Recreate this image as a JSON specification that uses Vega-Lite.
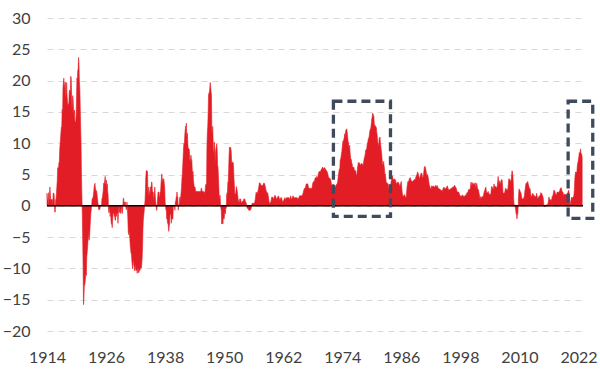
{
"$schema": "https://vega.github.io/schema/vega-lite/v6.json",
"width": 536,
"height": 313,
"autosize": {"type": "none"},
"padding": {"left": 47, "top": 18, "right": 17, "bottom": 45},
"background": "white",
"config": {"view": {"stroke": null}, "axis": {"labelOverlap": false}},
"layer": [
{
"data": {"values": [
{"t":1914,"v":2},{"t":1914.08,"v":1},{"t":1914.17,"v":1},{"t":1914.25,"v":0},{"t":1914.33,"v":2.1},{"t":1914.42,"v":1},{"t":1914.5,"v":1},{"t":1914.58,"v":3},{"t":1914.67,"v":2},{"t":1914.75,"v":1},{"t":1914.83,"v":1},{"t":1914.92,"v":1},
{"t":1915,"v":1},{"t":1915.08,"v":1},{"t":1915.17,"v":0},{"t":1915.25,"v":2},{"t":1915.33,"v":2},{"t":1915.42,"v":2},{"t":1915.5,"v":1},{"t":1915.58,"v":-1},{"t":1915.67,"v":-1},{"t":1915.75,"v":1},{"t":1915.83,"v":1},{"t":1915.92,"v":2},
{"t":1916,"v":3},{"t":1916.08,"v":4},{"t":1916.17,"v":6.1},{"t":1916.25,"v":6},{"t":1916.33,"v":5.9},{"t":1916.42,"v":6.9},{"t":1916.5,"v":6.9},{"t":1916.58,"v":8.9},{"t":1916.67,"v":9.9},{"t":1916.75,"v":10.8},{"t":1916.83,"v":11.7},{"t":1916.92,"v":12.6},
{"t":1917,"v":12.5},{"t":1917.08,"v":15.4},{"t":1917.17,"v":14.3},{"t":1917.25,"v":18.9},{"t":1917.33,"v":19.6},{"t":1917.42,"v":20.4},{"t":1917.5,"v":18.5},{"t":1917.58,"v":19.3},{"t":1917.67,"v":19.8},{"t":1917.75,"v":19.5},{"t":1917.83,"v":17.4},{"t":1917.92,"v":18.1},
{"t":1918,"v":19.7},{"t":1918.08,"v":17.5},{"t":1918.17,"v":16.7},{"t":1918.25,"v":16},{"t":1918.33,"v":16.3},{"t":1918.42,"v":16},{"t":1918.5,"v":18},{"t":1918.58,"v":18.5},{"t":1918.67,"v":18},{"t":1918.75,"v":18.5},{"t":1918.83,"v":20.7},{"t":1918.92,"v":20.3},
{"t":1919,"v":17.9},{"t":1919.08,"v":14.9},{"t":1919.17,"v":17.1},{"t":1919.25,"v":17.6},{"t":1919.33,"v":16.6},{"t":1919.42,"v":15},{"t":1919.5,"v":14.8},{"t":1919.58,"v":15.3},{"t":1919.67,"v":13.5},{"t":1919.75,"v":13.4},{"t":1919.83,"v":13.4},{"t":1919.92,"v":14.5},
{"t":1920,"v":17},{"t":1920.08,"v":20.4},{"t":1920.17,"v":20.1},{"t":1920.25,"v":21.6},{"t":1920.33,"v":21.9},{"t":1920.42,"v":23.7},{"t":1920.5,"v":22.7},{"t":1920.58,"v":19.9},{"t":1920.67,"v":18.7},{"t":1920.75,"v":16},{"t":1920.83,"v":12.9},{"t":1920.92,"v":9.9},
{"t":1921,"v":5.4},{"t":1921.08,"v":2},{"t":1921.17,"v":-1.1},{"t":1921.25,"v":-5.1},{"t":1921.33,"v":-9.3},{"t":1921.42,"v":-15.8},{"t":1921.5,"v":-14.9},{"t":1921.58,"v":-12.8},{"t":1921.67,"v":-12.7},{"t":1921.75,"v":-12.2},{"t":1921.83,"v":-11.4},{"t":1921.92,"v":-10.8},
{"t":1922,"v":-11.1},{"t":1922.08,"v":-8.2},{"t":1922.17,"v":-7.4},{"t":1922.25,"v":-6.6},{"t":1922.33,"v":-5.6},{"t":1922.42,"v":-5.1},{"t":1922.5,"v":-4.4},{"t":1922.58,"v":-5.5},{"t":1922.67,"v":-4.6},{"t":1922.75,"v":-3.4},{"t":1922.83,"v":-2.3},{"t":1922.92,"v":-1.1},
{"t":1923,"v":-0.6},{"t":1923.08,"v":0},{"t":1923.17,"v":1.1},{"t":1923.25,"v":1.2},{"t":1923.33,"v":1.2},{"t":1923.42,"v":1.7},{"t":1923.5,"v":2.3},{"t":1923.58,"v":3},{"t":1923.67,"v":3.4},{"t":1923.75,"v":3.6},{"t":1923.83,"v":2.9},{"t":1923.92,"v":2.4},
{"t":1924,"v":2.4},{"t":1924.08,"v":2.4},{"t":1924.17,"v":1.8},{"t":1924.25,"v":1.2},{"t":1924.33,"v":0.6},{"t":1924.42,"v":0},{"t":1924.5,"v":-0.6},{"t":1924.58,"v":-0.6},{"t":1924.67,"v":-0.6},{"t":1924.75,"v":-0.6},{"t":1924.83,"v":0},{"t":1924.92,"v":0},
{"t":1925,"v":0},{"t":1925.08,"v":0},{"t":1925.17,"v":1.2},{"t":1925.25,"v":1.2},{"t":1925.33,"v":1.8},{"t":1925.42,"v":2.4},{"t":1925.5,"v":3.6},{"t":1925.58,"v":3.6},{"t":1925.67,"v":3.6},{"t":1925.75,"v":4.2},{"t":1925.83,"v":4.7},{"t":1925.92,"v":3.5},
{"t":1926,"v":3.5},{"t":1926.08,"v":4.1},{"t":1926.17,"v":2.9},{"t":1926.25,"v":3.5},{"t":1926.33,"v":2.3},{"t":1926.42,"v":1.7},{"t":1926.5,"v":-0.6},{"t":1926.58,"v":-1.1},{"t":1926.67,"v":-0.6},{"t":1926.75,"v":-0.6},{"t":1926.83,"v":-1.7},{"t":1926.92,"v":-0.6},
{"t":1927,"v":-2.3},{"t":1927.08,"v":-2.9},{"t":1927.17,"v":-2.9},{"t":1927.25,"v":-3.5},{"t":1927.33,"v":-2.3},{"t":1927.42,"v":-1.2},{"t":1927.5,"v":-1.2},{"t":1927.58,"v":-1.2},{"t":1927.67,"v":-1.7},{"t":1927.75,"v":-1.2},{"t":1927.83,"v":-2.3},{"t":1927.92,"v":-2.3},
{"t":1928,"v":-1.1},{"t":1928.08,"v":-1.7},{"t":1928.17,"v":-1.2},{"t":1928.25,"v":-1.2},{"t":1928.33,"v":-1.1},{"t":1928.42,"v":-2.8},{"t":1928.5,"v":-1.2},{"t":1928.58,"v":-0.6},{"t":1928.67,"v":0},{"t":1928.75,"v":-1.1},{"t":1928.83,"v":-0.6},{"t":1928.92,"v":-1.2},
{"t":1929,"v":-1.2},{"t":1929.08,"v":0},{"t":1929.17,"v":-0.6},{"t":1929.25,"v":-1.2},{"t":1929.33,"v":-1.2},{"t":1929.42,"v":0},{"t":1929.5,"v":1.2},{"t":1929.58,"v":1.2},{"t":1929.67,"v":0},{"t":1929.75,"v":0.6},{"t":1929.83,"v":0.6},{"t":1929.92,"v":0.6},
{"t":1930,"v":0},{"t":1930.08,"v":-0.6},{"t":1930.17,"v":-0.6},{"t":1930.25,"v":0.6},{"t":1930.33,"v":-0.6},{"t":1930.42,"v":-1.8},{"t":1930.5,"v":-4},{"t":1930.58,"v":-4.6},{"t":1930.67,"v":-4},{"t":1930.75,"v":-4.6},{"t":1930.83,"v":-5.2},{"t":1930.92,"v":-6.4},
{"t":1931,"v":-7},{"t":1931.08,"v":-7.6},{"t":1931.17,"v":-7.7},{"t":1931.25,"v":-8.8},{"t":1931.33,"v":-9.5},{"t":1931.42,"v":-10.1},{"t":1931.5,"v":-9},{"t":1931.58,"v":-8.5},{"t":1931.67,"v":-9.6},{"t":1931.75,"v":-9.7},{"t":1931.83,"v":-10.4},{"t":1931.92,"v":-9.3},
{"t":1932,"v":-10.1},{"t":1932.08,"v":-10.3},{"t":1932.17,"v":-10.3},{"t":1932.25,"v":-10.2},{"t":1932.33,"v":-10.8},{"t":1932.42,"v":-10},{"t":1932.5,"v":-9.9},{"t":1932.58,"v":-10.6},{"t":1932.67,"v":-10.7},{"t":1932.75,"v":-10.4},{"t":1932.83,"v":-10.2},{"t":1932.92,"v":-10.3},
{"t":1933,"v":-9.8},{"t":1933.08,"v":-9.9},{"t":1933.17,"v":-10},{"t":1933.25,"v":-9.4},{"t":1933.33,"v":-8.4},{"t":1933.42,"v":-6.6},{"t":1933.5,"v":-3.7},{"t":1933.58,"v":-2.2},{"t":1933.67,"v":-1.5},{"t":1933.75,"v":-0.8},{"t":1933.83,"v":0},{"t":1933.92,"v":0.8},
{"t":1934,"v":2.3},{"t":1934.08,"v":4.7},{"t":1934.17,"v":5.6},{"t":1934.25,"v":5.6},{"t":1934.33,"v":5.6},{"t":1934.42,"v":5.5},{"t":1934.5,"v":2.3},{"t":1934.58,"v":1.5},{"t":1934.67,"v":3},{"t":1934.75,"v":2.3},{"t":1934.83,"v":2.3},{"t":1934.92,"v":1.5},
{"t":1935,"v":3},{"t":1935.08,"v":3},{"t":1935.17,"v":3},{"t":1935.25,"v":3.8},{"t":1935.33,"v":3.8},{"t":1935.42,"v":2.2},{"t":1935.5,"v":2.2},{"t":1935.58,"v":2.2},{"t":1935.67,"v":0.7},{"t":1935.75,"v":1.5},{"t":1935.83,"v":2.2},{"t":1935.92,"v":3},
{"t":1936,"v":1.5},{"t":1936.08,"v":0.7},{"t":1936.17,"v":0},{"t":1936.25,"v":-0.7},{"t":1936.33,"v":-0.7},{"t":1936.42,"v":0.7},{"t":1936.5,"v":1.5},{"t":1936.58,"v":2.2},{"t":1936.67,"v":2.2},{"t":1936.75,"v":2.2},{"t":1936.83,"v":1.4},{"t":1936.92,"v":1.4},
{"t":1937,"v":2.2},{"t":1937.08,"v":2.2},{"t":1937.17,"v":3.6},{"t":1937.25,"v":4.4},{"t":1937.33,"v":5.1},{"t":1937.42,"v":4.3},{"t":1937.5,"v":4.3},{"t":1937.58,"v":3.6},{"t":1937.67,"v":4.3},{"t":1937.75,"v":4.3},{"t":1937.83,"v":3.6},{"t":1937.92,"v":2.9},
{"t":1938,"v":0.7},{"t":1938.08,"v":0},{"t":1938.17,"v":-0.7},{"t":1938.25,"v":-0.7},{"t":1938.33,"v":-2.1},{"t":1938.42,"v":-2.1},{"t":1938.5,"v":-2.8},{"t":1938.58,"v":-2.8},{"t":1938.67,"v":-3.4},{"t":1938.75,"v":-4.1},{"t":1938.83,"v":-3.4},{"t":1938.92,"v":-2.8},
{"t":1939,"v":-1.4},{"t":1939.08,"v":-1.4},{"t":1939.17,"v":-1.4},{"t":1939.25,"v":-2.8},{"t":1939.33,"v":-2.1},{"t":1939.42,"v":-2.1},{"t":1939.5,"v":-2.1},{"t":1939.58,"v":-2.1},{"t":1939.67,"v":0},{"t":1939.75,"v":0},{"t":1939.83,"v":0},{"t":1939.92,"v":0},
{"t":1940,"v":-0.7},{"t":1940.08,"v":0.7},{"t":1940.17,"v":0.7},{"t":1940.25,"v":1.4},{"t":1940.33,"v":1.4},{"t":1940.42,"v":2.2},{"t":1940.5,"v":1.4},{"t":1940.58,"v":1.4},{"t":1940.67,"v":-0.7},{"t":1940.75,"v":0},{"t":1940.83,"v":0},{"t":1940.92,"v":0.7},
{"t":1941,"v":1.4},{"t":1941.08,"v":0.7},{"t":1941.17,"v":1.4},{"t":1941.25,"v":2.1},{"t":1941.33,"v":2.9},{"t":1941.42,"v":4.3},{"t":1941.5,"v":5},{"t":1941.58,"v":6.4},{"t":1941.67,"v":7.9},{"t":1941.75,"v":9.3},{"t":1941.83,"v":10},{"t":1941.92,"v":9.9},
{"t":1942,"v":11.3},{"t":1942.08,"v":12.1},{"t":1942.17,"v":12.7},{"t":1942.25,"v":12.6},{"t":1942.33,"v":13.2},{"t":1942.42,"v":10.9},{"t":1942.5,"v":11.6},{"t":1942.58,"v":10.7},{"t":1942.67,"v":9.3},{"t":1942.75,"v":9.2},{"t":1942.83,"v":9.1},{"t":1942.92,"v":9},
{"t":1943,"v":7.6},{"t":1943.08,"v":7},{"t":1943.17,"v":7.5},{"t":1943.25,"v":8.1},{"t":1943.33,"v":7.4},{"t":1943.42,"v":7.4},{"t":1943.5,"v":6.1},{"t":1943.58,"v":4.8},{"t":1943.67,"v":5.5},{"t":1943.75,"v":4.2},{"t":1943.83,"v":3.6},{"t":1943.92,"v":3},
{"t":1944,"v":3},{"t":1944.08,"v":3},{"t":1944.17,"v":2.5},{"t":1944.25,"v":2.3},{"t":1944.5,"v":2.3},{"t":1944.75,"v":2.3},{"t":1945,"v":2.3},{"t":1945.25,"v":2.3},{"t":1945.33,"v":2.8},{"t":1945.42,"v":2.8},{"t":1945.5,"v":2.3},{"t":1945.75,"v":2.3},
{"t":1946,"v":2.2},{"t":1946.08,"v":1.7},{"t":1946.17,"v":2.8},{"t":1946.25,"v":3.4},{"t":1946.33,"v":3.4},{"t":1946.42,"v":3.3},{"t":1946.5,"v":9.4},{"t":1946.58,"v":11.6},{"t":1946.67,"v":12.7},{"t":1946.75,"v":14.9},{"t":1946.83,"v":17.7},{"t":1946.92,"v":18.1},
{"t":1947,"v":18.1},{"t":1947.08,"v":18.8},{"t":1947.17,"v":19.7},{"t":1947.25,"v":19},{"t":1947.33,"v":18.4},{"t":1947.42,"v":17.6},{"t":1947.5,"v":12.1},{"t":1947.58,"v":11.4},{"t":1947.67,"v":12.7},{"t":1947.75,"v":10.6},{"t":1947.83,"v":8.5},{"t":1947.92,"v":8.8},
{"t":1948,"v":10.2},{"t":1948.08,"v":9.3},{"t":1948.17,"v":6.8},{"t":1948.25,"v":8.7},{"t":1948.33,"v":9.1},{"t":1948.42,"v":9.5},{"t":1948.5,"v":9.9},{"t":1948.58,"v":8.9},{"t":1948.67,"v":6.5},{"t":1948.75,"v":6.1},{"t":1948.83,"v":4.8},{"t":1948.92,"v":3},
{"t":1949,"v":1.3},{"t":1949.08,"v":1.3},{"t":1949.17,"v":1.7},{"t":1949.25,"v":0.4},{"t":1949.33,"v":-0.4},{"t":1949.42,"v":-0.8},{"t":1949.5,"v":-2.9},{"t":1949.58,"v":-2.9},{"t":1949.67,"v":-2.4},{"t":1949.75,"v":-2.9},{"t":1949.83,"v":-1.7},{"t":1949.92,"v":-2.1},
{"t":1950,"v":-2.1},{"t":1950.08,"v":-1.3},{"t":1950.17,"v":-0.8},{"t":1950.25,"v":-1.3},{"t":1950.33,"v":-0.4},{"t":1950.42,"v":-0.4},{"t":1950.5,"v":1.7},{"t":1950.58,"v":2.1},{"t":1950.67,"v":2.1},{"t":1950.75,"v":3.8},{"t":1950.83,"v":3.8},{"t":1950.92,"v":5.9},
{"t":1951,"v":8.1},{"t":1951.08,"v":9.4},{"t":1951.17,"v":9.3},{"t":1951.25,"v":9.3},{"t":1951.33,"v":9.3},{"t":1951.42,"v":8.8},{"t":1951.5,"v":7.5},{"t":1951.58,"v":6.6},{"t":1951.67,"v":7},{"t":1951.75,"v":6.5},{"t":1951.83,"v":6.9},{"t":1951.92,"v":6},
{"t":1952,"v":4.3},{"t":1952.17,"v":1.9},{"t":1952.33,"v":1.9},{"t":1952.5,"v":3.1},{"t":1952.67,"v":2.3},{"t":1952.83,"v":1.1},
{"t":1953,"v":0.4},{"t":1953.17,"v":1.1},{"t":1953.33,"v":1.1},{"t":1953.5,"v":0.4},{"t":1953.67,"v":0.7},{"t":1953.83,"v":0.7},
{"t":1954,"v":1.1},{"t":1954.17,"v":1.1},{"t":1954.33,"v":0.7},{"t":1954.5,"v":0.4},{"t":1954.67,"v":-0.4},{"t":1954.83,"v":-0.4},
{"t":1955,"v":-0.7},{"t":1955.17,"v":-0.7},{"t":1955.33,"v":-0.7},{"t":1955.5,"v":-0.4},{"t":1955.67,"v":0.4},{"t":1955.83,"v":0.4},
{"t":1956,"v":0.4},{"t":1956.17,"v":0.4},{"t":1956.33,"v":1.1},{"t":1956.5,"v":2.2},{"t":1956.67,"v":1.9},{"t":1956.83,"v":2.2},
{"t":1957,"v":2.9},{"t":1957.17,"v":3.7},{"t":1957.33,"v":3.6},{"t":1957.5,"v":3.3},{"t":1957.67,"v":3.2},{"t":1957.83,"v":3.2},
{"t":1958,"v":3.6},{"t":1958.17,"v":3.6},{"t":1958.33,"v":3.2},{"t":1958.5,"v":2.5},{"t":1958.67,"v":2.1},{"t":1958.83,"v":2.1},
{"t":1959,"v":1.4},{"t":1959.17,"v":0.4},{"t":1959.33,"v":0.4},{"t":1959.5,"v":0.7},{"t":1959.67,"v":1.4},{"t":1959.83,"v":1.4},
{"t":1960,"v":1},{"t":1960.17,"v":1.4},{"t":1960.33,"v":1.7},{"t":1960.5,"v":1.4},{"t":1960.67,"v":1},{"t":1960.83,"v":1.3},
{"t":1961,"v":1.6},{"t":1961.17,"v":1.3},{"t":1961.33,"v":0.9},{"t":1961.5,"v":1.3},{"t":1961.67,"v":1.3},{"t":1961.83,"v":0.7},
{"t":1962,"v":0.7},{"t":1962.17,"v":1},{"t":1962.33,"v":1.3},{"t":1962.5,"v":1},{"t":1962.67,"v":1.3},{"t":1962.83,"v":1.3},
{"t":1963,"v":1.3},{"t":1963.17,"v":1.3},{"t":1963.33,"v":1},{"t":1963.5,"v":1.6},{"t":1963.67,"v":1},{"t":1963.83,"v":1.3},
{"t":1964,"v":1.6},{"t":1964.17,"v":1.3},{"t":1964.33,"v":1.3},{"t":1964.5,"v":1.3},{"t":1964.67,"v":1.3},{"t":1964.83,"v":1.3},
{"t":1965,"v":1},{"t":1965.17,"v":1.3},{"t":1965.33,"v":1.6},{"t":1965.5,"v":1.6},{"t":1965.67,"v":1.6},{"t":1965.83,"v":1.6},
{"t":1966,"v":1.9},{"t":1966.17,"v":2.5},{"t":1966.33,"v":2.8},{"t":1966.5,"v":2.8},{"t":1966.67,"v":3.5},{"t":1966.83,"v":3.5},
{"t":1967,"v":3.5},{"t":1967.17,"v":2.8},{"t":1967.33,"v":2.8},{"t":1967.5,"v":2.8},{"t":1967.67,"v":2.8},{"t":1967.83,"v":2.7},
{"t":1968,"v":3.6},{"t":1968.17,"v":3.9},{"t":1968.33,"v":3.9},{"t":1968.5,"v":4.5},{"t":1968.67,"v":4.4},{"t":1968.83,"v":4.7},
{"t":1969,"v":4.4},{"t":1969.17,"v":5.2},{"t":1969.33,"v":5.5},{"t":1969.5,"v":5.4},{"t":1969.67,"v":5.7},{"t":1969.83,"v":5.9},
{"t":1970,"v":6.2},{"t":1970.17,"v":5.8},{"t":1970.33,"v":6.1},{"t":1970.5,"v":6},{"t":1970.67,"v":5.7},{"t":1970.83,"v":5.6},
{"t":1971,"v":5.3},{"t":1971.17,"v":4.7},{"t":1971.33,"v":4.4},{"t":1971.5,"v":4.4},{"t":1971.67,"v":4.1},{"t":1971.83,"v":3.3},
{"t":1972,"v":3.3},{"t":1972.17,"v":3.5},{"t":1972.33,"v":3.2},{"t":1972.5,"v":2.9},{"t":1972.67,"v":3.2},{"t":1972.83,"v":3.4},
{"t":1973,"v":3.6},{"t":1973.08,"v":3.9},{"t":1973.17,"v":4.6},{"t":1973.25,"v":5.1},{"t":1973.33,"v":5.5},{"t":1973.42,"v":5.9},{"t":1973.5,"v":5.7},{"t":1973.58,"v":7.4},{"t":1973.67,"v":7.4},{"t":1973.75,"v":7.8},{"t":1973.83,"v":8.3},{"t":1973.92,"v":8.7},
{"t":1974,"v":9.4},{"t":1974.08,"v":10},{"t":1974.17,"v":10.4},{"t":1974.25,"v":10.1},{"t":1974.33,"v":10.7},{"t":1974.42,"v":10.9},{"t":1974.5,"v":11.5},{"t":1974.58,"v":10.9},{"t":1974.67,"v":11.9},{"t":1974.75,"v":12.1},{"t":1974.83,"v":12.2},{"t":1974.92,"v":12.3},
{"t":1975,"v":11.8},{"t":1975.08,"v":11.2},{"t":1975.17,"v":10.3},{"t":1975.25,"v":10.2},{"t":1975.33,"v":9.5},{"t":1975.42,"v":9.4},{"t":1975.5,"v":9.7},{"t":1975.58,"v":8.6},{"t":1975.67,"v":7.9},{"t":1975.75,"v":7.4},{"t":1975.83,"v":7.4},{"t":1975.92,"v":6.9},
{"t":1976,"v":6.7},{"t":1976.08,"v":6.3},{"t":1976.17,"v":6.1},{"t":1976.25,"v":6},{"t":1976.33,"v":6.2},{"t":1976.42,"v":5.9},{"t":1976.5,"v":5.4},{"t":1976.58,"v":5.7},{"t":1976.67,"v":5.5},{"t":1976.75,"v":5.5},{"t":1976.83,"v":4.9},{"t":1976.92,"v":4.9},
{"t":1977,"v":5.2},{"t":1977.08,"v":6},{"t":1977.17,"v":6.4},{"t":1977.25,"v":6.9},{"t":1977.33,"v":6.7},{"t":1977.42,"v":6.9},{"t":1977.5,"v":6.8},{"t":1977.58,"v":6.6},{"t":1977.67,"v":6.6},{"t":1977.75,"v":6.4},{"t":1977.83,"v":6.7},{"t":1977.92,"v":6.7},
{"t":1978,"v":6.8},{"t":1978.08,"v":6.4},{"t":1978.17,"v":6.6},{"t":1978.25,"v":6.5},{"t":1978.33,"v":6.9},{"t":1978.42,"v":7.4},{"t":1978.5,"v":7.7},{"t":1978.58,"v":7.9},{"t":1978.67,"v":8.3},{"t":1978.75,"v":8.9},{"t":1978.83,"v":8.9},{"t":1978.92,"v":9},
{"t":1979,"v":9.3},{"t":1979.08,"v":9.9},{"t":1979.17,"v":10.1},{"t":1979.25,"v":10.5},{"t":1979.33,"v":10.8},{"t":1979.42,"v":10.9},{"t":1979.5,"v":11.3},{"t":1979.58,"v":11.8},{"t":1979.67,"v":12.2},{"t":1979.75,"v":12.1},{"t":1979.83,"v":12.6},{"t":1979.92,"v":13.3},
{"t":1980,"v":13.9},{"t":1980.08,"v":14.2},{"t":1980.17,"v":14.8},{"t":1980.25,"v":14.7},{"t":1980.33,"v":14.4},{"t":1980.42,"v":14.4},{"t":1980.5,"v":13.1},{"t":1980.58,"v":12.9},{"t":1980.67,"v":12.6},{"t":1980.75,"v":12.8},{"t":1980.83,"v":12.6},{"t":1980.92,"v":12.5},
{"t":1981,"v":11.8},{"t":1981.08,"v":11.4},{"t":1981.17,"v":10.5},{"t":1981.25,"v":10},{"t":1981.33,"v":9.8},{"t":1981.42,"v":9.6},{"t":1981.5,"v":10.8},{"t":1981.58,"v":10.8},{"t":1981.67,"v":11},{"t":1981.75,"v":10.1},{"t":1981.83,"v":9.6},{"t":1981.92,"v":8.9},
{"t":1982,"v":8.4},{"t":1982.08,"v":7.6},{"t":1982.17,"v":6.8},{"t":1982.25,"v":6.5},{"t":1982.33,"v":6.7},{"t":1982.42,"v":7.1},{"t":1982.5,"v":6.4},{"t":1982.58,"v":5.9},{"t":1982.67,"v":5},{"t":1982.75,"v":5.1},{"t":1982.83,"v":4.6},{"t":1982.92,"v":3.8},
{"t":1983,"v":3.7},{"t":1983.17,"v":3.6},{"t":1983.33,"v":3.5},{"t":1983.5,"v":2.5},{"t":1983.67,"v":2.9},{"t":1983.83,"v":3.3},
{"t":1984,"v":4.2},{"t":1984.17,"v":4.8},{"t":1984.33,"v":4.2},{"t":1984.5,"v":4.2},{"t":1984.67,"v":4.3},{"t":1984.83,"v":4.1},
{"t":1985,"v":3.5},{"t":1985.17,"v":3.7},{"t":1985.33,"v":3.8},{"t":1985.5,"v":3.6},{"t":1985.67,"v":3.1},{"t":1985.83,"v":3.5},
{"t":1986,"v":3.9},{"t":1986.17,"v":2.2},{"t":1986.33,"v":1.5},{"t":1986.5,"v":1.6},{"t":1986.67,"v":1.8},{"t":1986.83,"v":1.3},
{"t":1987,"v":1.5},{"t":1987.17,"v":3},{"t":1987.33,"v":3.9},{"t":1987.5,"v":3.9},{"t":1987.67,"v":4.4},{"t":1987.83,"v":4.5},
{"t":1988,"v":4},{"t":1988.17,"v":3.9},{"t":1988.33,"v":3.9},{"t":1988.5,"v":4.1},{"t":1988.67,"v":4.2},{"t":1988.83,"v":4.2},
{"t":1989,"v":4.7},{"t":1989.17,"v":5},{"t":1989.33,"v":5.4},{"t":1989.5,"v":5},{"t":1989.67,"v":4.3},{"t":1989.83,"v":4.7},
{"t":1990,"v":5.2},{"t":1990.17,"v":5.2},{"t":1990.33,"v":4.4},{"t":1990.5,"v":4.8},{"t":1990.67,"v":6.2},{"t":1990.83,"v":6.3},
{"t":1991,"v":5.7},{"t":1991.17,"v":4.9},{"t":1991.33,"v":5},{"t":1991.5,"v":4.4},{"t":1991.67,"v":3.4},{"t":1991.83,"v":3},
{"t":1992,"v":2.6},{"t":1992.17,"v":3.2},{"t":1992.33,"v":3},{"t":1992.5,"v":3.2},{"t":1992.67,"v":3},{"t":1992.83,"v":3},
{"t":1993,"v":3.3},{"t":1993.17,"v":3.1},{"t":1993.33,"v":3.2},{"t":1993.5,"v":2.8},{"t":1993.67,"v":2.7},{"t":1993.83,"v":2.7},
{"t":1994,"v":2.5},{"t":1994.17,"v":2.5},{"t":1994.33,"v":2.3},{"t":1994.5,"v":2.8},{"t":1994.67,"v":3},{"t":1994.83,"v":2.7},
{"t":1995,"v":2.8},{"t":1995.17,"v":2.9},{"t":1995.33,"v":3.2},{"t":1995.5,"v":2.8},{"t":1995.67,"v":2.5},{"t":1995.83,"v":2.6},
{"t":1996,"v":2.7},{"t":1996.17,"v":2.8},{"t":1996.33,"v":2.9},{"t":1996.5,"v":3},{"t":1996.67,"v":3},{"t":1996.83,"v":3.3},
{"t":1997,"v":3},{"t":1997.17,"v":2.8},{"t":1997.33,"v":2.2},{"t":1997.5,"v":2.2},{"t":1997.67,"v":2.2},{"t":1997.83,"v":1.8},
{"t":1998,"v":1.6},{"t":1998.17,"v":1.4},{"t":1998.33,"v":1.7},{"t":1998.5,"v":1.7},{"t":1998.67,"v":1.5},{"t":1998.83,"v":1.5},
{"t":1999,"v":1.7},{"t":1999.17,"v":1.7},{"t":1999.33,"v":2.1},{"t":1999.5,"v":2.1},{"t":1999.67,"v":2.6},{"t":1999.83,"v":2.6},
{"t":2000,"v":2.7},{"t":2000.17,"v":3.8},{"t":2000.33,"v":3.2},{"t":2000.5,"v":3.7},{"t":2000.67,"v":3.5},{"t":2000.83,"v":3.4},
{"t":2001,"v":3.7},{"t":2001.17,"v":2.9},{"t":2001.33,"v":3.6},{"t":2001.5,"v":2.7},{"t":2001.67,"v":2.6},{"t":2001.83,"v":1.9},
{"t":2002,"v":1.1},{"t":2002.17,"v":1.5},{"t":2002.33,"v":1.2},{"t":2002.5,"v":1.5},{"t":2002.67,"v":1.5},{"t":2002.83,"v":2.2},
{"t":2003,"v":2.6},{"t":2003.17,"v":3},{"t":2003.33,"v":2.1},{"t":2003.5,"v":2.1},{"t":2003.67,"v":2.3},{"t":2003.83,"v":1.8},
{"t":2004,"v":1.9},{"t":2004.17,"v":1.7},{"t":2004.33,"v":3.1},{"t":2004.5,"v":3},{"t":2004.67,"v":2.5},{"t":2004.83,"v":3.5},
{"t":2005,"v":3},{"t":2005.17,"v":3.1},{"t":2005.33,"v":2.8},{"t":2005.5,"v":3.2},{"t":2005.67,"v":4.7},{"t":2005.83,"v":3.5},
{"t":2006,"v":4},{"t":2006.17,"v":3.4},{"t":2006.33,"v":4.2},{"t":2006.5,"v":4.1},{"t":2006.67,"v":2.1},{"t":2006.83,"v":2},
{"t":2007,"v":2.1},{"t":2007.17,"v":2.8},{"t":2007.33,"v":2.7},{"t":2007.5,"v":2.4},{"t":2007.67,"v":2.8},{"t":2007.83,"v":4.3},
{"t":2008,"v":4.3},{"t":2008.08,"v":4},{"t":2008.17,"v":4},{"t":2008.25,"v":3.9},{"t":2008.33,"v":4.2},{"t":2008.42,"v":5},{"t":2008.5,"v":5.6},{"t":2008.58,"v":5.4},{"t":2008.67,"v":4.9},{"t":2008.75,"v":3.7},{"t":2008.83,"v":1.1},{"t":2008.92,"v":0.1},
{"t":2009,"v":0},{"t":2009.08,"v":0.2},{"t":2009.17,"v":-0.4},{"t":2009.25,"v":-0.7},{"t":2009.33,"v":-1.3},{"t":2009.42,"v":-1.4},{"t":2009.5,"v":-2.1},{"t":2009.58,"v":-1.5},{"t":2009.67,"v":-1.3},{"t":2009.75,"v":-0.2},{"t":2009.83,"v":1.8},{"t":2009.92,"v":2.7},
{"t":2010,"v":2.6},{"t":2010.17,"v":2.3},{"t":2010.33,"v":2},{"t":2010.5,"v":1.2},{"t":2010.67,"v":1.1},{"t":2010.83,"v":1.1},
{"t":2011,"v":1.6},{"t":2011.17,"v":2.7},{"t":2011.33,"v":3.6},{"t":2011.5,"v":3.6},{"t":2011.67,"v":3.9},{"t":2011.83,"v":3.4},
{"t":2012,"v":2.9},{"t":2012.17,"v":2.7},{"t":2012.33,"v":1.7},{"t":2012.5,"v":1.4},{"t":2012.67,"v":2},{"t":2012.83,"v":1.8},
{"t":2013,"v":1.6},{"t":2013.17,"v":1.5},{"t":2013.33,"v":1.4},{"t":2013.5,"v":2},{"t":2013.67,"v":1.2},{"t":2013.83,"v":1.2},
{"t":2014,"v":1.6},{"t":2014.17,"v":1.5},{"t":2014.33,"v":2.1},{"t":2014.5,"v":2},{"t":2014.67,"v":1.7},{"t":2014.83,"v":1.3},
{"t":2015,"v":-0.1},{"t":2015.17,"v":-0.1},{"t":2015.33,"v":0},{"t":2015.5,"v":0.2},{"t":2015.67,"v":0},{"t":2015.83,"v":0.5},
{"t":2016,"v":1.4},{"t":2016.17,"v":0.9},{"t":2016.33,"v":1},{"t":2016.5,"v":0.8},{"t":2016.67,"v":1.5},{"t":2016.83,"v":1.7},
{"t":2017,"v":2.5},{"t":2017.17,"v":2.4},{"t":2017.33,"v":1.9},{"t":2017.5,"v":1.7},{"t":2017.67,"v":2.2},{"t":2017.83,"v":2.2},
{"t":2018,"v":2.1},{"t":2018.17,"v":2.4},{"t":2018.33,"v":2.8},{"t":2018.5,"v":2.9},{"t":2018.67,"v":2.3},{"t":2018.83,"v":2.2},
{"t":2019,"v":1.6},{"t":2019.17,"v":1.9},{"t":2019.33,"v":1.8},{"t":2019.5,"v":1.8},{"t":2019.67,"v":1.7},{"t":2019.83,"v":2.1},
{"t":2020,"v":2.5},{"t":2020.08,"v":2.3},{"t":2020.17,"v":1.5},{"t":2020.25,"v":0.3},{"t":2020.33,"v":0.1},{"t":2020.42,"v":0.6},{"t":2020.5,"v":1},{"t":2020.58,"v":1.3},{"t":2020.67,"v":1.4},{"t":2020.75,"v":1.2},{"t":2020.83,"v":1.2},{"t":2020.92,"v":1.4},
{"t":2021,"v":1.4},{"t":2021.08,"v":1.7},{"t":2021.17,"v":2.6},{"t":2021.25,"v":4.2},{"t":2021.33,"v":5},{"t":2021.42,"v":5.4},{"t":2021.5,"v":5.4},{"t":2021.58,"v":5.3},{"t":2021.67,"v":5.4},{"t":2021.75,"v":6.2},{"t":2021.83,"v":6.8},{"t":2021.92,"v":7},
{"t":2022,"v":7.5},{"t":2022.08,"v":7.9},{"t":2022.17,"v":8.5},{"t":2022.25,"v":8.3},{"t":2022.33,"v":8.6},{"t":2022.42,"v":9.1},{"t":2022.5,"v":8.5},{"t":2022.58,"v":8.3},{"t":2022.67,"v":8.2},{"t":2022.75,"v":7.7}
]},
"mark": {"type": "area", "color": "#e31d25", "orient": "vertical", "interpolate": "linear", "stroke": "#e31d25", "strokeWidth": 0.6},
"encoding": {
"x": {"field": "t", "type": "quantitative", "title": null,
"scale": {"domain": [1914, 2022.92], "nice": false, "zero": false},
"axis": {"values": [1914, 1926, 1938, 1950, 1962, 1974, 1986, 1998, 2010, 2022], "format": "d", "grid": false, "domain": false, "ticks": false, "tickSize": 0, "labelPadding": 18, "labelFont": "Lato", "labelFontSize": 16, "labelColor": "#404040", "labelFlush": false, "labelOverlap": false}},
"y": {"field": "v", "type": "quantitative", "title": null,
"scale": {"domain": [-20, 30], "nice": false},
"axis": {"values": [-20, -15, -10, -5, 0, 5, 10, 15, 20, 25, 30], "grid": true, "gridDash": [6, 5], "gridColor": "#d9d9d9", "gridWidth": 1, "domain": false, "ticks": false, "tickSize": 0, "labelPadding": 17, "labelFont": "Lato", "labelFontSize": 16, "labelColor": "#404040", "labelOverlap": false, "labelFlush": false}}
}
},
{
"data": {"values": [{"zero": 0}]},
"mark": {"type": "rule", "color": "#000000", "strokeWidth": 1.5},
"encoding": {"y": {"field": "zero", "type": "quantitative", "title": null,
"axis": {"values": [-20, -15, -10, -5, 0, 5, 10, 15, 20, 25, 30], "grid": true, "gridDash": [6, 5], "gridColor": "#d9d9d9", "gridWidth": 1, "domain": false, "ticks": false, "tickSize": 0, "labelPadding": 17, "labelFont": "Lato", "labelFontSize": 16, "labelColor": "#404040", "labelOverlap": false, "labelFlush": false}}}
},
{
"data": {"values": [
{"x1": 1972.2, "x2": 1983.8, "y1": 16.7, "y2": -1.7},
{"x1": 2019.9, "x2": 2024.9, "y1": 16.7, "y2": -2.0}
]},
"mark": {"type": "rect", "fill": null, "filled": false, "stroke": "#3f4b5d", "strokeWidth": 3.3, "strokeDash": [9, 5], "clip": false},
"encoding": {
"x": {"field": "x1", "type": "quantitative", "title": null,
"axis": {"values": [1914, 1926, 1938, 1950, 1962, 1974, 1986, 1998, 2010, 2022], "format": "d", "grid": false, "domain": false, "ticks": false, "tickSize": 0, "labelPadding": 18, "labelFont": "Lato", "labelFontSize": 16, "labelColor": "#404040", "labelFlush": false, "labelOverlap": false}},
"x2": {"field": "x2"},
"y": {"field": "y1", "type": "quantitative", "title": null,
"axis": {"values": [-20, -15, -10, -5, 0, 5, 10, 15, 20, 25, 30], "grid": true, "gridDash": [6, 5], "gridColor": "#d9d9d9", "gridWidth": 1, "domain": false, "ticks": false, "tickSize": 0, "labelPadding": 17, "labelFont": "Lato", "labelFontSize": 16, "labelColor": "#404040", "labelOverlap": false, "labelFlush": false}},
"y2": {"field": "y2"}
}
}
]
}
